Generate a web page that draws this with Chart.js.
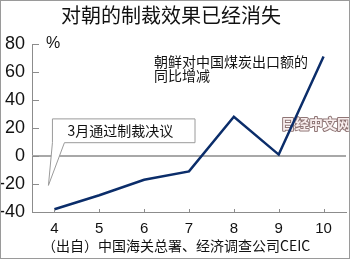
<!DOCTYPE html>
<html>
<head>
<meta charset="utf-8">
<script src="https://cdn.jsdelivr.net/npm/chart.js@4"></script>
<style>
  html, body { margin: 0; padding: 0; background: #fff; }
  canvas { display: block; }
</style>
</head>
<body>
<canvas id="myChart" width="350" height="259"></canvas>
<script>
/* globals Chart:false */
const months = ["4", "5", "6", "7", "8", "9", "10"];
const coalExportChange = [-38, -28, -17, -11, 28, 1, 71];
const yTicks = [-40, -20, 0, 20, 40, 60, 80];

const titleText = "对朝的制裁效果已经消失";
const unitText = "%";
const seriesNote = ["朝鲜对中国煤炭出口额的", "同比增减"];
const calloutText = "3月通过制裁决议";
const sourceText = "（出自）中国海关总署、经济调查公司CEIC";
const watermarkText = "日经中文网";

const CJK = "'Noto Sans CJK SC', 'Noto Sans', sans-serif";
const NUM = "'Liberation Sans Narrow', 'Liberation Sans', Arial, sans-serif";

const decor = {
  id: "decor",
  beforeDatasetsDraw(chart) {
    const { ctx, chartArea, scales } = chart;
    const x = scales.x;
    const y = scales.y;
    ctx.save();

    // zero line
    const y0 = y.getPixelForValue(0);
    ctx.strokeStyle = "#a8a8a8";
    ctx.lineWidth = 2;
    ctx.beginPath();
    ctx.moveTo(chartArea.left, y0);
    ctx.lineTo(chartArea.right, y0);
    ctx.stroke();

    // callout box with tail
    const x4 = x.getPixelForValue(0);
    const tipX = x4 - 6;
    const tipY = y.getPixelForValue(-21);
    const left = x4 - 2;
    const right = x.getPixelForValue(3) + 6;
    const top = y.getPixelForValue(26.5);
    const bottom = y.getPixelForValue(9.5);
    ctx.beginPath();
    ctx.moveTo(left, top);
    ctx.lineTo(right, top);
    ctx.lineTo(right, bottom);
    ctx.lineTo(x4 + 10, bottom);
    ctx.lineTo(tipX, tipY);
    ctx.lineTo(left, bottom);
    ctx.closePath();
    ctx.fillStyle = "#fff";
    ctx.fill();
    ctx.strokeStyle = "#9a9a9a";
    ctx.lineWidth = 1;
    ctx.stroke();
    ctx.fillStyle = "#111";
    ctx.font = "14px " + CJK;
    ctx.textBaseline = "middle";
    ctx.textAlign = "left";
    ctx.fillText(calloutText, left + 15, (top + bottom) / 2);

    // watermark
    ctx.font = "bold 14px " + CJK;
    ctx.lineJoin = "round";
    ctx.lineWidth = 2;
    ctx.strokeStyle = "#8f7575";
    ctx.strokeText(watermarkText, 281, 124);
    ctx.fillStyle = "#f8eeee";
    ctx.fillText(watermarkText, 281, 124);
    ctx.restore();
  },
  afterDraw(chart) {
    const { ctx, chartArea, scales } = chart;
    const x = scales.x;
    const y = scales.y;
    ctx.save();

    // inward tick marks
    ctx.strokeStyle = "#8c8c8c";
    ctx.lineWidth = 1;
    ctx.beginPath();
    yTicks.forEach((v) => {
      const py = Math.round(y.getPixelForValue(v)) + 0.5;
      ctx.moveTo(chartArea.left, py);
      ctx.lineTo(chartArea.left + 7, py);
    });
    months.forEach((m, i) => {
      const px = Math.round(x.getPixelForValue(i)) + 0.5;
      ctx.moveTo(px, chartArea.bottom);
      ctx.lineTo(px, chartArea.bottom - 3);
    });
    ctx.stroke();

    // title
    ctx.fillStyle = "#111";
    ctx.textAlign = "center";
    ctx.textBaseline = "middle";
    ctx.font = "20px " + CJK;
    ctx.fillText(titleText, 171, 15);

    // unit
    ctx.textAlign = "left";
    ctx.font = "16px " + NUM;
    ctx.fillText(unitText, 46, 44);

    // series note
    ctx.font = "14px " + CJK;
    ctx.fillText(seriesNote[0], 154, 62);
    ctx.fillText(seriesNote[1], 154, 76);

    // source
    ctx.font = "14px " + CJK;
    ctx.fillText(sourceText, 42, 246);

    // frame
    ctx.strokeStyle = "#9a9a9a";
    ctx.lineWidth = 1;
    ctx.strokeRect(0.5, 0.5, chart.width - 1, chart.height - 1);
    ctx.restore();
  },
};

document.addEventListener("DOMContentLoaded", () => {
  const ctx = document.getElementById("myChart").getContext("2d");
  new Chart(ctx, {
    type: "line",
    data: {
      labels: months,
      datasets: [
        {
          data: coalExportChange,
          borderColor: "#0b2d6a",
          borderWidth: 2.5,
          pointRadius: 0,
          tension: 0,
          fill: false,
        },
      ],
    },
    options: {
      responsive: false,
      animation: false,
      layout: { padding: { top: 44, right: 4, left: 0, bottom: 0 } },
      plugins: {
        legend: { display: false },
        tooltip: { enabled: false },
      },
      scales: {
        x: {
          offset: true,
          grid: { display: false, drawTicks: false },
          border: { display: true, color: "#8c8c8c", width: 1 },
          ticks: {
            color: "#111",
            padding: 8,
            font: { family: NUM, size: 15 },
            maxRotation: 0,
          },
          afterFit(scale) {
            scale.height = 47;
          },
        },
        y: {
          min: -40,
          max: 80,
          afterBuildTicks(scale) {
            scale.ticks = yTicks.map((v) => ({ value: v }));
          },
          grid: { display: false, drawTicks: false },
          border: { display: true, color: "#8c8c8c", width: 1 },
          ticks: {
            color: "#111",
            padding: 7,
            font: { family: NUM, size: 18 },
          },
          afterFit(scale) {
            scale.width = 32;
          },
        },
      },
    },
    plugins: [decor],
  });
});
</script>
</body>
</html>
